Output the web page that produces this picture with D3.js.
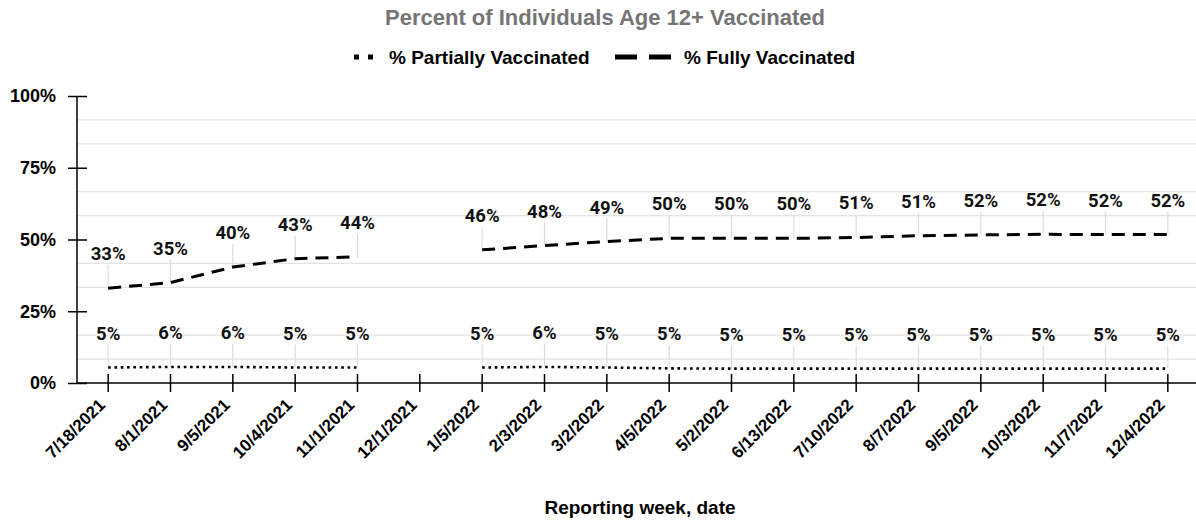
<!DOCTYPE html>
<html>
<head>
<meta charset="utf-8">
<script src="https://cdn.jsdelivr.net/npm/d3@7"></script>
<style>
  html, body { margin: 0; padding: 0; background: #fff; }
  svg { display: block; }
  .axis-text { font-family: "Liberation Sans", Arial, sans-serif; font-weight: bold; fill: #000; }
  .val-label { font-family: Roboto, "Liberation Sans", sans-serif; font-weight: 700; fill: #111; }
</style>
</head>
<body>
<svg id="chart" width="1196" height="520"></svg>
<script>
// Reporting weeks (12/1/2021 has no report)
const weeks = ["7/18/2021", "8/1/2021", "9/5/2021", "10/4/2021", "11/1/2021", "12/1/2021",
  "1/5/2022", "2/3/2022", "3/2/2022", "4/5/2022", "5/2/2022", "6/13/2022", "7/10/2022",
  "8/7/2022", "9/5/2022", "10/3/2022", "11/7/2022", "12/4/2022"];

// Percent of individuals age 12+ (null = no report that week)
const partiallyVaccinated = [5.4, 5.6, 5.6, 5.4, 5.4, null, 5.4, 5.6, 5.4, 5.1, 5.0, 5.0, 5.0, 5.0, 5.0, 5.0, 5.0, 5.0];
const fullyVaccinated = [33.0, 35.0, 40.4, 43.3, 44.0, null, 46.4, 47.9, 49.3, 50.4, 50.4, 50.4, 50.7, 51.3, 51.6, 51.8, 51.7, 51.7];

const yTicks = [0, 25, 50, 75, 100];
const seriesNames = ["% Partially Vaccinated", "% Fully Vaccinated"];

const svg = d3.select("#chart");
const plotLeft = 77, plotRight = 1199, plotTop = 96, plotBottom = 383;

const x = d3.scaleBand().domain(weeks).range([plotLeft, plotRight]);
const xc = d => x(d) + x.bandwidth() / 2;
const y = d3.scaleLinear().domain([0, 100]).range([plotBottom, plotTop]);

// Title
svg.append("text")
  .attr("class", "axis-text")
  .attr("x", 605).attr("y", 25)
  .attr("text-anchor", "middle")
  .style("font-size", "22px")
  .style("fill", "#757575")
  .text("Percent of Individuals Age 12+ Vaccinated");

// Legend
const legend = svg.append("g");
legend.append("line")
  .attr("x1", 354).attr("x2", 374).attr("y1", 57).attr("y2", 57)
  .attr("stroke", "#000").attr("stroke-width", 5).attr("stroke-dasharray", "5,9");
legend.append("text").attr("class", "axis-text")
  .attr("x", 389).attr("y", 64).style("font-size", "19px").text(seriesNames[0]);
legend.append("line")
  .attr("x1", 615).attr("x2", 672).attr("y1", 57).attr("y2", 57)
  .attr("stroke", "#000").attr("stroke-width", 5).attr("stroke-dasharray", "22,12");
legend.append("text").attr("class", "axis-text")
  .attr("x", 684).attr("y", 64).style("font-size", "19px").text(seriesNames[1]);

// Minor gridlines (every 1/12 of the range, skipping the labelled levels)
const gridVals = d3.range(1, 12).map(k => k * 100 / 12).filter((v, i) => (i + 1) % 3 !== 0);
svg.append("g").selectAll("line").data(gridVals).join("line")
  .attr("x1", plotLeft + 1).attr("x2", plotRight)
  .attr("y1", d => y(d)).attr("y2", d => y(d))
  .attr("stroke", "#e3e3e3").attr("stroke-width", 1.3);

// Y axis
const yAxis = svg.append("g").attr("transform", `translate(${plotLeft},0)`)
  .call(d3.axisLeft(y).tickValues(yTicks).tickFormat(d => d + "%").tickSize(9).tickPadding(12));
yAxis.select(".domain").attr("stroke", "#000").attr("stroke-width", 1.5).attr("d", `M0,${plotTop}V${plotBottom}`);
yAxis.selectAll(".tick line").attr("x2", -9).attr("x1", 10).attr("stroke-width", 1.5);
yAxis.selectAll(".tick text").attr("class", "axis-text").style("font-size", "18px");

// X axis
const xAxis = svg.append("g").attr("transform", `translate(0,${plotBottom})`)
  .call(d3.axisBottom(x).tickSize(9).tickPadding(8));
xAxis.select(".domain").attr("stroke", "#000").attr("stroke-width", 1.5).attr("d", `M${plotLeft},0H${plotRight}`);
xAxis.selectAll(".tick line").attr("y1", -9).attr("y2", 9).attr("stroke-width", 1.5);
xAxis.selectAll(".tick text")
  .attr("class", "axis-text")
  .style("font-size", "17px")
  .attr("text-anchor", "end")
  .attr("x", 0).attr("y", 0).attr("dy", 0)
  .attr("transform", "translate(-2,23) rotate(-45)");

// X axis title
svg.append("text").attr("class", "axis-text")
  .attr("x", 640).attr("y", 514).attr("text-anchor", "middle")
  .style("font-size", "19px").text("Reporting week, date");

// Series lines
const line = d3.line()
  .defined(d => d.v !== null)
  .x(d => xc(d.w)).y(d => y(d.v));

const series = [
  { values: partiallyVaccinated, width: 2.6, dash: "2.6,3.7" },
  { values: fullyVaccinated, width: 3, dash: "13,8" }
];

series.forEach(s => {
  const pts = weeks.map((w, i) => ({ w, v: s.values[i] }));
  const valid = pts.filter(d => d.v !== null);

  // leader lines from each point up to its label
  svg.append("g").selectAll("line").data(valid).join("line")
    .attr("x1", d => xc(d.w)).attr("x2", d => xc(d.w))
    .attr("y1", d => y(d.v)).attr("y2", d => y(d.v) - 23)
    .attr("stroke", "#dcdcdc").attr("stroke-width", 1.2);

  svg.append("path").datum(pts)
    .attr("fill", "none").attr("stroke", "#000")
    .attr("stroke-width", s.width).attr("stroke-dasharray", s.dash)
    .attr("d", line);

  svg.append("g").selectAll("text").data(valid).join("text")
    .attr("class", "val-label")
    .attr("x", d => xc(d.w)).attr("y", d => y(d.v) - 28)
    .attr("text-anchor", "middle")
    .style("font-size", "18.5px")
    .text(d => d3.format(".0f")(d.v) + "%");
});
</script>
</body>
</html>
